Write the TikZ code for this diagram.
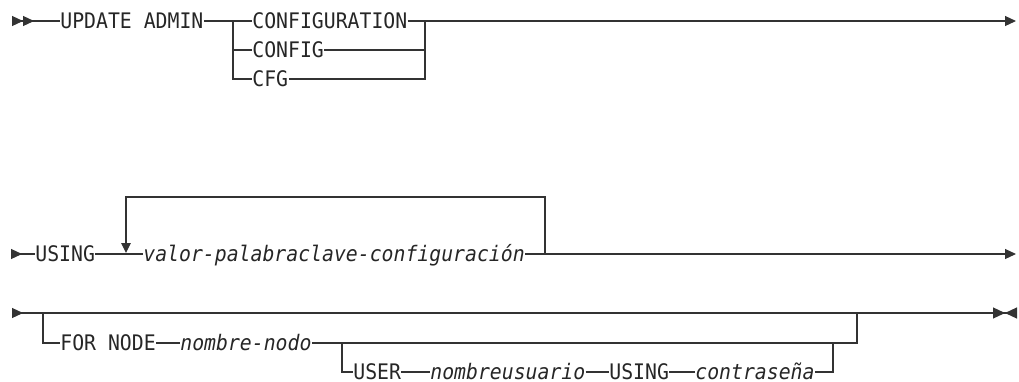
\documentclass[tikz,border=0pt]{standalone}
\usepackage{fontspec}
\usetikzlibrary{arrows.meta}
\newfontfamily\railfont[FakeStretch=0.925]{DejaVu Sans Mono}

\begin{document}
\begin{tikzpicture}[x=0.5pt,y=-0.5pt,
    railout/.tip={Triangle[length=5.5pt,width=5pt]},
    railin/.tip={Triangle[reversed,length=5.5pt,width=5pt]},
    railstop/.tip={Triangle[length=6pt,width=5.5pt]},
    railback/.tip={Triangle[reversed,length=6pt,width=5.5pt]},
    rail/.style={line width=0.6pt,draw=black!80},
    kw/.style={font=\railfont\fontsize{10.7}{13}\selectfont,text=black!85,
               inner sep=0pt,text height=7.8pt,text depth=0pt,anchor=west},
    var/.style={kw,font=\railfont\itshape\fontsize{10.7}{13}\selectfont}]
  \useasboundingbox (0,0) rectangle (1019,381);
  % row 1: UPDATE ADMIN
  \coordinate (s1) at (12,21);
  \coordinate (e1) at (1016,21);
  \coordinate (bl1) at (233,21);
  \coordinate (br1) at (425,21);
  \node[kw] (upd) at (60,21) {UPDATE ADMIN};
  \node[kw] (cfgfull) at (252,21) {CONFIGURATION};
  \node[kw] (cfgmid) at (252,50) {CONFIG};
  \node[kw] (cfgshort) at (252,79) {CFG};
  \draw[rail,{railin[]railin[]}-] (s1) -- (upd.west);
  \draw[rail] (upd.east) -- (cfgfull.west);
  \draw[rail,-railout] (cfgfull.east) -- (e1);
  \draw[rail] (bl1) |- (cfgshort.west);
  \draw[rail] (bl1 |- cfgmid.west) -- (cfgmid.west);
  \draw[rail] (cfgmid.east) -- (br1 |- cfgmid.east);
  \draw[rail] (cfgshort.east) -| (br1);
  % row 2: USING, repeatable
  \coordinate (s2) at (11,254);
  \coordinate (e2) at (1016,254);
  \coordinate (lp) at (126,253);
  \coordinate (lt) at (126,197);
  \coordinate (rt) at (545,197);
  \coordinate (rp) at (545,254);
  \node[kw] (using) at (35,254) {USING};
  \node[var] (kwval) at (143,254) {valor-palabraclave-configuración};
  \draw[rail,railin-] (s2) -- (using.west);
  \draw[rail] (using.east) -- (kwval.west);
  \draw[rail,-railout] (kwval.east) -- (e2);
  \draw[rail,-{Triangle[length=5pt,width=4.8pt]}] (rp) -- (rt) -- (lt) -- (lp);
  % row 3: FOR NODE, optional
  \coordinate (s3) at (12,313);
  \coordinate (e3) at (1017,313);
  \coordinate (ob) at (43,313);
  \coordinate (oe) at (857,313);
  \coordinate (ib) at (342,343);
  \coordinate (ie) at (833,343);
  \coordinate (dk1) at (863,313);
  \coordinate (dk2) at (885,313);
  \node[kw] (fornode) at (60,343) {FOR NODE};
  \node[var] (nodename) at (180,343) {nombre-nodo};
  \node[kw] (user) at (353,372) {USER};
  \node[var] (uname) at (430,372) {nombreusuario};
  \node[kw] (usingpw) at (609,372) {USING};
  \node[var] (pw) at (695,372) {contraseña};
  \draw[rail,railin-{railstop[]railback[]}] (s3) -- (e3);
  \draw[rail,line width=1.3pt] (dk1) -- (dk2);
  \draw[rail] (ob) |- (fornode.west);
  \draw[rail] (fornode.east) -- (nodename.west);
  \draw[rail] (nodename.east) -| (oe);
  \draw[rail] (ib) |- (user.west);
  \draw[rail] (user.east) -- (uname.west);
  \draw[rail] (uname.east) -- (usingpw.west);
  \draw[rail] (usingpw.east) -- (pw.west);
  \draw[rail] (pw.east) -| (ie);
\end{tikzpicture}
\end{document}
